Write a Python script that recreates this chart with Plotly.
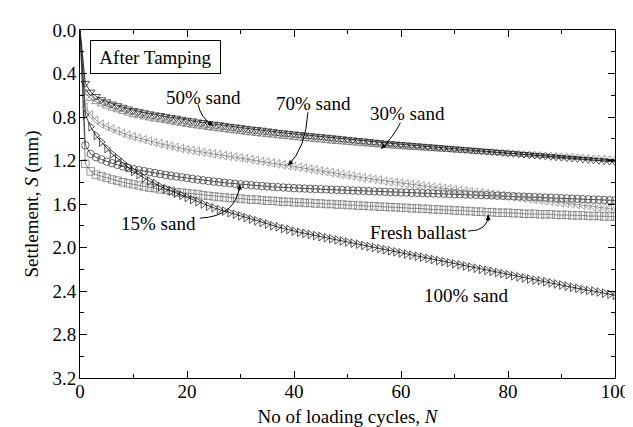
import plotly.graph_objects as go

cycles = list(range(0, 101))

sand_50 = [0, 0.49, 0.57, 0.61, 0.64, 0.66, 0.68, 0.695, 0.71, 0.725, 0.74,
           0.75, 0.76, 0.77, 0.78, 0.785, 0.795, 0.805, 0.81, 0.82, 0.83,
           0.835, 0.845, 0.85, 0.86, 0.865, 0.87, 0.878, 0.885, 0.89, 0.897,
           0.903, 0.91, 0.915, 0.92, 0.927, 0.933, 0.94, 0.945, 0.95, 0.955,
           0.96, 0.966, 0.971, 0.976, 0.98, 0.985, 0.99, 0.995, 1.00, 1.005,
           1.01, 1.015, 1.02, 1.025, 1.03, 1.035, 1.04, 1.044, 1.048, 1.052,
           1.056, 1.06, 1.064, 1.068, 1.072, 1.076, 1.08, 1.084, 1.088, 1.092,
           1.096, 1.10, 1.104, 1.108, 1.112, 1.116, 1.12, 1.124, 1.128, 1.132,
           1.136, 1.14, 1.144, 1.148, 1.152, 1.156, 1.16, 1.164, 1.168, 1.172,
           1.176, 1.18, 1.184, 1.188, 1.192, 1.196, 1.20, 1.204, 1.208, 1.212]

sand_30 = [0, 0.58, 0.63, 0.66, 0.68, 0.70, 0.72, 0.735, 0.75, 0.765, 0.78,
           0.79, 0.80, 0.81, 0.82, 0.827, 0.835, 0.845, 0.853, 0.862, 0.87,
           0.877, 0.884, 0.891, 0.898, 0.905, 0.911, 0.917, 0.923, 0.929, 0.935,
           0.941, 0.947, 0.953, 0.958, 0.963, 0.968, 0.973, 0.978, 0.983, 0.988,
           0.993, 0.998, 1.003, 1.008, 1.013, 1.018, 1.022, 1.026, 1.03, 1.034,
           1.038, 1.042, 1.046, 1.05, 1.054, 1.058, 1.062, 1.066, 1.07, 1.074,
           1.077, 1.08, 1.083, 1.086, 1.089, 1.092, 1.095, 1.098, 1.101, 1.104,
           1.107, 1.11, 1.113, 1.116, 1.119, 1.122, 1.125, 1.128, 1.131, 1.134,
           1.137, 1.14, 1.143, 1.146, 1.149, 1.152, 1.155, 1.158, 1.161, 1.164,
           1.167, 1.17, 1.173, 1.176, 1.179, 1.182, 1.185, 1.188, 1.191, 1.194]

sand_70 = [0, 0.71, 0.78, 0.83, 0.865, 0.89, 0.91, 0.93, 0.95, 0.965, 0.98,
           0.995, 1.008, 1.02, 1.033, 1.045, 1.057, 1.068, 1.079, 1.09, 1.10,
           1.108, 1.116, 1.124, 1.132, 1.14, 1.147, 1.154, 1.161, 1.168, 1.175,
           1.183, 1.191, 1.199, 1.207, 1.215, 1.223, 1.231, 1.239, 1.247, 1.255,
           1.263, 1.271, 1.279, 1.287, 1.295, 1.303, 1.311, 1.319, 1.327, 1.335,
           1.343, 1.351, 1.359, 1.366, 1.373, 1.38, 1.39, 1.396, 1.402, 1.408,
           1.414, 1.42, 1.426, 1.432, 1.438, 1.444, 1.45, 1.456, 1.462, 1.468,
           1.474, 1.48, 1.486, 1.492, 1.498, 1.504, 1.51, 1.516, 1.522, 1.528,
           1.534, 1.54, 1.546, 1.552, 1.558, 1.564, 1.57, 1.576, 1.582, 1.588,
           1.594, 1.60, 1.606, 1.612, 1.618, 1.624, 1.63, 1.636, 1.642, 1.648]

sand_15 = [0, 1.06, 1.14, 1.17, 1.19, 1.21, 1.225, 1.24, 1.255, 1.268, 1.28,
           1.289, 1.298, 1.307, 1.316, 1.324, 1.332, 1.34, 1.347, 1.354, 1.361,
           1.368, 1.375, 1.382, 1.388, 1.394, 1.399, 1.404, 1.409, 1.414, 1.419,
           1.423, 1.427, 1.431, 1.435, 1.439, 1.442, 1.445, 1.448, 1.451, 1.454,
           1.456, 1.458, 1.46, 1.462, 1.464, 1.466, 1.468, 1.47, 1.472, 1.474,
           1.476, 1.478, 1.48, 1.482, 1.484, 1.486, 1.488, 1.49, 1.492, 1.494,
           1.495, 1.497, 1.498, 1.50, 1.502, 1.503, 1.505, 1.506, 1.508, 1.51,
           1.511, 1.513, 1.514, 1.516, 1.518, 1.519, 1.521, 1.523, 1.525, 1.527,
           1.529, 1.531, 1.533, 1.535, 1.537, 1.539, 1.541, 1.543, 1.545, 1.547,
           1.549, 1.551, 1.553, 1.555, 1.557, 1.559, 1.561, 1.563, 1.565, 1.567]

fresh_ballast = [0, 1.23, 1.30, 1.33, 1.345, 1.36, 1.375, 1.385, 1.40, 1.41, 1.42,
                 1.43, 1.44, 1.45, 1.455, 1.465, 1.47, 1.48, 1.49, 1.495, 1.50,
                 1.505, 1.51, 1.52, 1.525, 1.53, 1.535, 1.54, 1.545, 1.545, 1.55,
                 1.555, 1.56, 1.56, 1.565, 1.57, 1.57, 1.575, 1.58, 1.58, 1.585,
                 1.585, 1.59, 1.59, 1.595, 1.595, 1.60, 1.60, 1.605, 1.605, 1.61,
                 1.61, 1.615, 1.615, 1.62, 1.62, 1.625, 1.625, 1.63, 1.63, 1.635,
                 1.635, 1.64, 1.64, 1.645, 1.645, 1.65, 1.65, 1.655, 1.655, 1.66,
                 1.66, 1.665, 1.665, 1.67, 1.67, 1.675, 1.675, 1.68, 1.68, 1.68,
                 1.685, 1.685, 1.69, 1.69, 1.69, 1.695, 1.695, 1.695, 1.70, 1.70,
                 1.70, 1.705, 1.705, 1.705, 1.71, 1.71, 1.71, 1.715, 1.715, 1.715]

sand_100 = [0, 0.78, 0.89, 0.97, 1.03, 1.09, 1.14, 1.18, 1.22, 1.26, 1.30,
            1.33, 1.36, 1.39, 1.41, 1.44, 1.46, 1.48, 1.50, 1.52, 1.54,
            1.56, 1.58, 1.60, 1.62, 1.635, 1.65, 1.665, 1.68, 1.695, 1.71,
            1.725, 1.74, 1.755, 1.77, 1.785, 1.80, 1.81, 1.825, 1.835, 1.85,
            1.86, 1.87, 1.88, 1.89, 1.90, 1.91, 1.92, 1.93, 1.94, 1.95,
            1.96, 1.97, 1.98, 1.99, 2.00, 2.01, 2.02, 2.03, 2.04, 2.05,
            2.06, 2.07, 2.08, 2.09, 2.10, 2.11, 2.12, 2.13, 2.14, 2.15,
            2.16, 2.17, 2.18, 2.19, 2.20, 2.21, 2.22, 2.23, 2.24, 2.25,
            2.26, 2.27, 2.28, 2.29, 2.30, 2.305, 2.315, 2.325, 2.335, 2.345,
            2.355, 2.365, 2.375, 2.385, 2.395, 2.40, 2.41, 2.42, 2.43, 2.44]

y_ticks = [0.0, 0.4, 0.8, 1.2, 1.6, 2.0, 2.4, 2.8, 3.2]
x_ticks = [0, 20, 40, 60, 80, 100]

FONT = "Liberation Serif"
FS = 19

series = [
    ("Fresh ballast", fresh_ballast, "square-open", "#6e6e6e"),
    ("15% sand", sand_15, "circle-open", "#2a2a2a"),
    ("70% sand", sand_70, "triangle-left-open", "#808080"),
    ("30% sand", sand_30, "triangle-up-open", "#6a6a6a"),
    ("50% sand", sand_50, "triangle-down-open", "#111111"),
    ("100% sand", sand_100, "triangle-right-open", "#111111"),
]

fig = go.Figure()
sizes = [0] + [7.5] * (len(cycles) - 1)
for name, vals, sym, col in series:
    fig.add_trace(go.Scatter(
        x=cycles, y=vals, mode="lines+markers", name=name,
        line=dict(color=col, width=0.8),
        marker=dict(symbol=sym, size=sizes, color=col, line=dict(color=col, width=1)),
        showlegend=False,
    ))

axis_common = dict(
    showline=True, linecolor="black", linewidth=1, mirror="allticks",
    ticks="inside", ticklen=7, tickwidth=1, tickcolor="black",
    showgrid=False, zeroline=False,
    tickfont=dict(family=FONT, size=FS, color="black"),
)

fig.update_xaxes(
    range=[0, 100], tickvals=x_ticks, ticklabelstandoff=-4,
    minor=dict(dtick=10, tick0=0, ticks="inside", ticklen=4, tickcolor="black", showgrid=False),
    title=dict(text="No of loading cycles, <i>N</i>", font=dict(family=FONT, size=FS, color="black"), standoff=8),
    **axis_common,
)
fig.update_yaxes(
    range=[3.2, 0], tickvals=y_ticks, tickformat=".1f", ticklabelstandoff=-1,
    minor=dict(dtick=0.2, tick0=0, ticks="inside", ticklen=4, tickcolor="black", showgrid=False),
    title=dict(text="Settlement, <i>S</i> (mm)", font=dict(family=FONT, size=FS, color="black"), standoff=8),
    **axis_common,
)

tfont = dict(family=FONT, size=FS, color="black")
labels = [
    ("50% sand", 23.0, 0.62),
    ("70% sand", 43.7, 0.676),
    ("30% sand", 61.3, 0.764),
    ("15% sand", 14.6, 1.778),
    ("Fresh ballast", 63.2, 1.86),
    ("100% sand", 72.1, 2.44),
]
for txt, lx, ly in labels:
    fig.add_annotation(x=lx, y=ly, text=txt, showarrow=False, font=tfont,
                       xanchor="center", yanchor="middle")

fig.add_annotation(x=14.1, y=0.25, text="After Tamping", showarrow=False, font=tfont,
                   bordercolor="black", borderwidth=1, borderpad=2, width=125, height=28,
                   bgcolor="white")

leaders = [
    ((22.06, 0.684), (22.6, 0.81), (24.86, 0.88), -7, -5),
    ((42.6, 0.756), (42.2, 1.09), (38.9, 1.244), 6, -6),
    ((59.9, 0.853), (58.5, 0.987), (56.3, 1.093), 6, -6),
    ((22.4, 1.73), (29.2, 1.716), (29.9, 1.42), -1, 8),
    ((72.5, 1.849), (76.3, 1.849), (76.3, 1.70), 0, 8),
]
for (s, c, e, ax, ay) in leaders:
    fig.add_shape(type="path", xref="x", yref="y",
                  path=f"M {s[0]},{s[1]} Q {c[0]},{c[1]} {e[0]},{e[1]}",
                  line=dict(color="black", width=1))
    fig.add_annotation(x=e[0], y=e[1], ax=ax, ay=ay, text="", showarrow=True,
                       arrowhead=2, arrowsize=1, arrowwidth=1, arrowcolor="black")

fig.update_layout(
    width=633, height=427,
    margin=dict(l=72, r=26, t=17, b=50),
    paper_bgcolor="white", plot_bgcolor="white",
    font=dict(family=FONT, size=FS, color="black"),
)

fig.write_html("out.html")
